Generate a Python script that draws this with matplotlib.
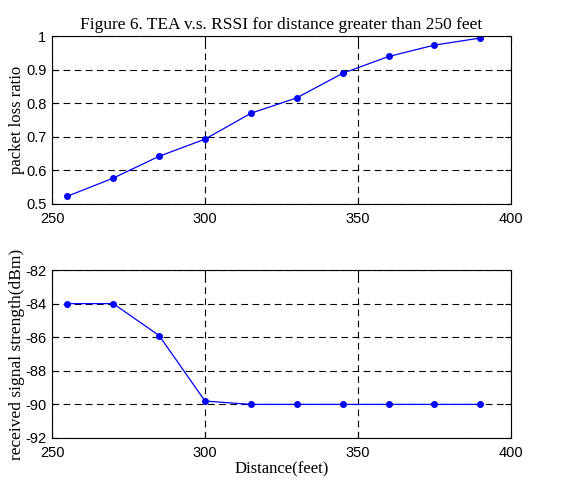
import matplotlib.pyplot as plt

distance = [255, 270, 285, 300, 315, 330, 345, 360, 375, 390]
loss_ratio = [0.523, 0.577, 0.642, 0.693, 0.770, 0.816, 0.889, 0.939, 0.973, 0.994]
rssi = [-84.0, -84.0, -85.9, -89.8, -90.0, -90.0, -90.0, -90.0, -90.0, -90.0]

x_ticks = [250, 300, 350, 400]
loss_ticks = [0.5, 0.6, 0.7, 0.8, 0.9, 1.0]
loss_labels = ["0.5", "0.6", "0.7", "0.8", "0.9", "1"]
rssi_ticks = [-92, -90, -88, -86, -84, -82]

SERIF = "Liberation Serif"
SANS = "Liberation Sans"

fig = plt.figure(figsize=(5.63, 4.82), dpi=100)
ax1 = fig.add_axes([0.0924, 0.5768, 0.8152, 0.3485])
ax2 = fig.add_axes([0.0924, 0.0913, 0.8152, 0.3485])


def style_axis(ax):
    ax.set_xlim(250, 400)
    ax.set_xticks(x_ticks)
    ax.set_xticklabels([str(t) for t in x_ticks], fontfamily=SANS, fontsize=10.5)
    ax.tick_params(direction="in", top=True, right=True, length=4, width=0.8)
    ax.tick_params(axis="x", pad=6)
    ax.tick_params(axis="y", pad=4)
    ax.grid(True, color="black", linestyle=(0, (6, 4)), linewidth=0.8)
    for spine in ax.spines.values():
        spine.set_linewidth(0.8)


ax1.plot(distance, loss_ratio, color="blue", linewidth=0.9, marker="o", markersize=4)
style_axis(ax1)
ax1.set_ylim(0.5, 1.0)
ax1.set_yticks(loss_ticks)
ax1.set_yticklabels(loss_labels, fontfamily=SANS, fontsize=10.5)
ax1.set_ylabel("packet loss ratio", fontfamily=SERIF, fontsize=12, labelpad=1)
ax1.set_title("Figure 6. TEA v.s. RSSI for distance greater than 250 feet",
              fontfamily=SERIF, fontsize=12.5, pad=5)

ax2.plot(distance, rssi, color="blue", linewidth=0.9, marker="o", markersize=4)
style_axis(ax2)
ax2.set_ylim(-92, -82)
ax2.set_yticks(rssi_ticks)
ax2.set_yticklabels([str(t) for t in rssi_ticks], fontfamily=SANS, fontsize=10.5)
ax2.set_ylabel("received signal strength(dBm)", fontfamily=SERIF, fontsize=12.5, labelpad=0)
ax2.set_xlabel("Distance(feet)", fontfamily=SERIF, fontsize=12, labelpad=1)

fig.savefig("out.png", dpi=100)
